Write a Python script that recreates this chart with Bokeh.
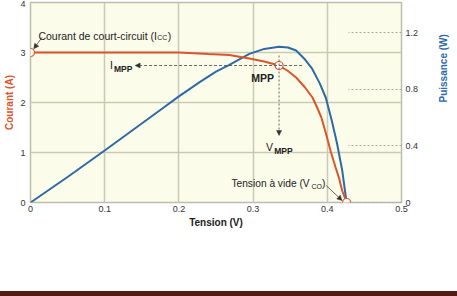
import math
from bokeh.plotting import figure
from bokeh.models import Range1d, LinearAxis, FixedTicker, Label, Arrow, NormalHead, Div
from bokeh.layouts import column
from bokeh.embed import file_html
from bokeh.resources import INLINE

# ---- data ----
volt_i = [0, 0.1, 0.2, 0.24, 0.268, 0.295, 0.315, 0.335, 0.347, 0.358, 0.37, 0.38,
          0.386, 0.392, 0.398, 0.405, 0.411, 0.416, 0.42, 0.426]
current = [3.0, 3.0, 3.0, 2.97, 2.95, 2.88, 2.82, 2.74, 2.63, 2.5, 2.3, 2.1,
           1.91, 1.7, 1.39, 1.0, 0.71, 0.48, 0.24, 0.0]
volt_p = [0, 0.05, 0.1, 0.174, 0.2, 0.228, 0.25, 0.268, 0.295, 0.315, 0.335, 0.347,
          0.358, 0.37, 0.379, 0.39, 0.398, 0.406, 0.413, 0.42, 0.426]
power = [0, 0.18, 0.367, 0.65, 0.75, 0.85, 0.925, 0.973, 1.05, 1.085, 1.10, 1.095,
         1.074, 1.01, 0.95, 0.84, 0.74, 0.58, 0.42, 0.23, 0.0]
x_ticks = [0, 0.1, 0.2, 0.3, 0.4, 0.5]
y_ticks = [0, 1, 2, 3, 4]
p_ticks = [0, 0.4, 0.8, 1.2]
mpp_index = 7
v_mpp = volt_i[mpp_index]
i_mpp = current[mpp_index]

ORANGE = "#d9552b"
BLUE = "#2e6aa6"
FONT = "Liberation Sans"
TXT = "#222222"

p = figure(width=457, height=291, x_range=Range1d(0, 0.5), y_range=Range1d(0, 4),
           output_backend="svg", toolbar_location=None,
           min_border_left=30, min_border_right=54, min_border_top=2, min_border_bottom=89,
           background_fill_color="#fcfcea", border_fill_color="white",
           outline_line_color="#bdbdab", outline_line_width=1.5)
p.extra_y_ranges = {"power": Range1d(0, 1.413)}

for g in (p.xgrid, p.ygrid):
    g.grid_line_color = "#c9c9b7"
    g.grid_line_width = 1.5

def style_axis(ax):
    ax.axis_line_color = None
    ax.major_tick_line_color = None
    ax.minor_tick_line_color = None
    ax.major_tick_out = 0
    ax.major_tick_in = 0
    ax.major_label_text_font = FONT
    ax.major_label_text_font_size = "9px"
    ax.major_label_text_color = "#333333"
    ax.axis_label_text_font = FONT
    ax.axis_label_text_font_style = "bold"
    ax.axis_label_text_font_size = "10px"

xa = p.xaxis[0]
style_axis(xa)
xa.ticker = FixedTicker(ticks=x_ticks)
xa.major_label_overrides = {0: "0"}
xa.major_label_standoff = 3
xa.axis_label = "Tension (V)"
xa.axis_label_standoff = 2
xa.axis_label_text_color = "#222222"

ya = p.yaxis[0]
style_axis(ya)
ya.ticker = FixedTicker(ticks=y_ticks)
ya.major_label_standoff = 5
ya.axis_label = "Courant (A)"
ya.axis_label_standoff = 2
ya.axis_label_text_color = ORANGE

ra = LinearAxis(y_range_name="power", ticker=FixedTicker(ticks=p_ticks))
style_axis(ra)
ra.major_label_overrides = {0: "0"}
ra.major_tick_line_color = "#a8a8a8"
ra.major_tick_line_dash = "2 2"
ra.major_tick_line_width = 1
ra.major_tick_in = 53
ra.major_label_standoff = 4
ra.axis_label = "Puissance (W)"
ra.axis_label_standoff = 22
ra.axis_label_orientation = math.pi / 2
ra.axis_label_text_color = BLUE
p.add_layout(ra, "right")

# curves
p.line(volt_p, power, line_color=BLUE, line_width=2, y_range_name="power")
p.line(volt_i, current, line_color=ORANGE, line_width=2)

# annotation arrows
def arrow(x0, y0, x1, y1, dash="solid"):
    p.add_layout(Arrow(end=NormalHead(size=5, fill_color="#333333", line_color="#333333", line_width=0.5),
                       x_start=x0, y_start=y0, x_end=x1, y_end=y1,
                       line_color="#444444", line_width=0.8, line_dash=dash))

arrow(0.366, i_mpp, 0.141, i_mpp, "3 2")
arrow(v_mpp, 2.94, v_mpp, 1.34, "2 2")
arrow(0.0157, 3.306, 0.0044, 3.074)
arrow(0.3985, 0.34, 0.42, 0.04)

# special points
p.scatter([volt_i[0], v_mpp, volt_i[-1]], [current[0], i_mpp, current[-1]],
          size=8, fill_color="white", line_color=ORANGE, line_width=1.2)

def label(x, y, text, size, bold=False, color=TXT):
    p.add_layout(Label(x=x, y=y, text=text, text_font=FONT, text_font_size=size,
                       text_font_style="bold" if bold else "normal", text_color=color,
                       text_baseline="alphabetic", text_align="left"))

label(0.0107, 3.34, "Courant de court-circuit (I", "10.5px")
label(0.1709, 3.30, "CC", "7px")
label(0.185, 3.34, ")", "10.5px")

label(0.2708, 0.374, "Tension à vide (V", "10.2px")
label(0.3787, 0.33, "CO", "7px")
label(0.3928, 0.374, ")", "10.2px")

label(0.1072, 2.76, "I", "10.5px")
label(0.1125, 2.68, "MPP", "8.5px", bold=True)

label(0.2976, 2.5, "MPP", "10.5px", bold=True)

label(0.3173, 1.106, "V", "10.5px")
label(0.3284, 1.026, "MPP", "8.5px", bold=True)

# bottom dark bar
bar = Div(text="", width=457, height=5, margin=0,
          styles={"background-color": "#561a14"})

layout = column(p, bar, spacing=0)
open("out.html", "w").write(file_html(layout, INLINE))
